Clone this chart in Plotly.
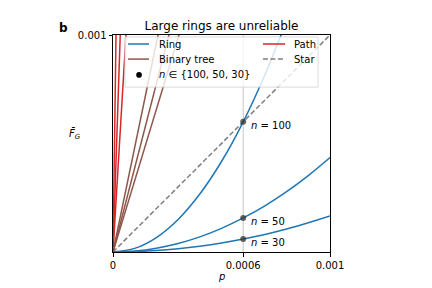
import plotly.graph_objects as go

# ---- data ----
p_grid = [0, 0.0001, 0.0002, 0.0003, 0.0004, 0.0005, 0.0006, 0.0007, 0.0008, 0.0009, 0.001]
ring_n100 = [0, 1.67e-5, 6.67e-5, 1.50e-4, 2.67e-4, 4.17e-4, 6.00e-4, 8.17e-4, 1.067e-3, 1.35e-3, 1.667e-3]
ring_n50 = [0, 4.4e-6, 1.74e-5, 3.9e-5, 6.96e-5, 1.09e-4, 1.57e-4, 2.13e-4, 2.78e-4, 3.52e-4, 4.35e-4]
ring_n30 = [0, 1.7e-6, 6.6e-6, 1.5e-5, 2.66e-5, 4.15e-5, 6.0e-5, 8.1e-5, 1.06e-4, 1.35e-4, 1.66e-4]

p_line = [0, 0.001]
tree_lines = {"100": [0, 0.00482], "50": [0, 0.00388], "30": [0, 0.00329]}
path_lines = {"100": [0, 0.072], "50": [0, 0.030], "30": [0, 0.0167]}
star_line = [0, 0.001]

p_mark = 0.0006
n_values = [100, 50, 30]
mark_values = [6.0e-4, 1.57e-4, 6.0e-5]

x_ticks = [0, 0.0006, 0.001]
x_ticklabels = ["0", "0.0006", "0.001"]
y_ticks = [0.001]
y_ticklabels = ["0.001"]

legend_labels = ["Ring", "Binary tree", "<i>n</i> ∈ {100, 50, 30}", "Path", "Star"]

BLUE = "#1f77b4"
BROWN = "#8c564b"
RED = "#d62728"
GRAY = "#7f7f7f"
FONT = "DejaVu Sans"

fig = go.Figure()

# vertical reference line at p = 0.0006
fig.add_trace(go.Scatter(x=[p_mark, p_mark], y=[0, 0.001], mode="lines",
                         line=dict(color="#b8b8b8", width=0.8), hoverinfo="skip"))

fig.add_trace(go.Scatter(x=p_line, y=star_line, mode="lines",
                         line=dict(color=GRAY, width=1.5, dash="5px,2.5px")))
for v in tree_lines.values():
    fig.add_trace(go.Scatter(x=p_line, y=v, mode="lines", line=dict(color=BROWN, width=1.5)))
for v in path_lines.values():
    fig.add_trace(go.Scatter(x=p_line, y=v, mode="lines", line=dict(color=RED, width=1.5)))
for v in [ring_n100, ring_n50, ring_n30]:
    fig.add_trace(go.Scatter(x=p_grid, y=v, mode="lines", line=dict(color=BLUE, width=1.5, shape="spline")))

fig.add_trace(go.Scatter(x=[p_mark] * len(mark_values), y=mark_values, mode="markers",
                         marker=dict(color="rgba(50,50,50,0.75)", size=6)))

for n, v in zip(n_values, mark_values):
    fig.add_annotation(x=p_mark, y=v, xref="x", yref="y", text=f"<i>n</i> = {n}",
                       showarrow=False, xanchor="left", yanchor="middle", xshift=6, yshift=-4,
                       font=dict(size=10, color="black", family=FONT))

# ---- hand-drawn legend (box + samples + labels) ----
fig.add_shape(type="rect", xref="paper", yref="paper", x0=0.055, x1=0.945, y0=0.760, y1=0.991,
              fillcolor="rgba(255,255,255,0.8)", line=dict(color="#d0d0d0", width=0.8), layer="above")
rows = [0.9585, 0.889, 0.816]
# left column
fig.add_shape(type="line", xref="paper", yref="paper", x0=0.069, x1=0.166, y0=rows[0], y1=rows[0],
              line=dict(color=BLUE, width=1.5), layer="above")
fig.add_shape(type="line", xref="paper", yref="paper", x0=0.069, x1=0.166, y0=rows[1], y1=rows[1],
              line=dict(color=BROWN, width=1.5), layer="above")
fig.add_shape(type="circle", xref="paper", yref="paper", x0=0.12 - 0.013, x1=0.12 + 0.013,
              y0=rows[2] - 0.013, y1=rows[2] + 0.013, fillcolor="black", line=dict(width=0),
              layer="above")
# right column
fig.add_shape(type="line", xref="paper", yref="paper", x0=0.691, x1=0.793, y0=rows[0], y1=rows[0],
              line=dict(color=RED, width=1.5), layer="above")
fig.add_shape(type="line", xref="paper", yref="paper", x0=0.691, x1=0.793, y0=rows[1], y1=rows[1],
              line=dict(color=GRAY, width=1.5, dash="5px,2.5px"), layer="above")
label_pos = [(0.203, rows[0]), (0.203, rows[1]), (0.203, rows[2]), (0.825, rows[0]), (0.825, rows[1])]
for lab, (lx, ly) in zip(legend_labels, label_pos):
    fig.add_annotation(x=lx, y=ly, xref="paper", yref="paper", text=lab, showarrow=False,
                       xanchor="left", yanchor="middle", font=dict(size=10, color="black", family=FONT))

fig.add_annotation(x=-0.226, y=1.032, xref="paper", yref="paper", text="<b>b</b>", showarrow=False,
                   xanchor="center", yanchor="middle", font=dict(size=12, color="black", family=FONT))
fig.add_annotation(x=-0.176, y=0.544, xref="paper", yref="paper", text="<i>F̄</i><sub><i>G</i></sub>",
                   showarrow=False, xanchor="center", yanchor="middle",
                   font=dict(size=10, color="black", family=FONT))
fig.add_annotation(x=0.5, y=-0.115, xref="paper", yref="paper", text="<i>p</i>",
                   showarrow=False, xanchor="center", yanchor="middle",
                   font=dict(size=10, color="black", family=FONT))

# the page adds an 8 px body margin, so the figure is 424 x 280 and margins are shifted by 8 px
fig.update_layout(
    width=424, height=280,
    margin=dict(l=105, r=102, t=27, b=36, autoexpand=False),
    paper_bgcolor="white", plot_bgcolor="white",
    font=dict(family=FONT, size=10, color="black"),
    showlegend=False,
    title=dict(text="Large rings are unreliable", x=0.5, xanchor="center", xref="paper",
               y=1.0, yref="paper", yanchor="bottom", pad=dict(b=5),
               font=dict(size=12, family=FONT, color="black")),
    xaxis=dict(range=[0, 0.001], tickvals=x_ticks, ticktext=x_ticklabels, showgrid=False, zeroline=False,
               showline=True, linecolor="black", linewidth=1, mirror=True, ticks="outside", ticklen=3.5,
               tickcolor="black", automargin=False),
    yaxis=dict(range=[0, 0.001], tickvals=y_ticks, ticktext=y_ticklabels, showgrid=False, zeroline=False,
               showline=True, linecolor="black", linewidth=1, mirror=True, ticks="outside", ticklen=3.5,
               tickcolor="black", automargin=False),
)

fig.write_html("out.html")
